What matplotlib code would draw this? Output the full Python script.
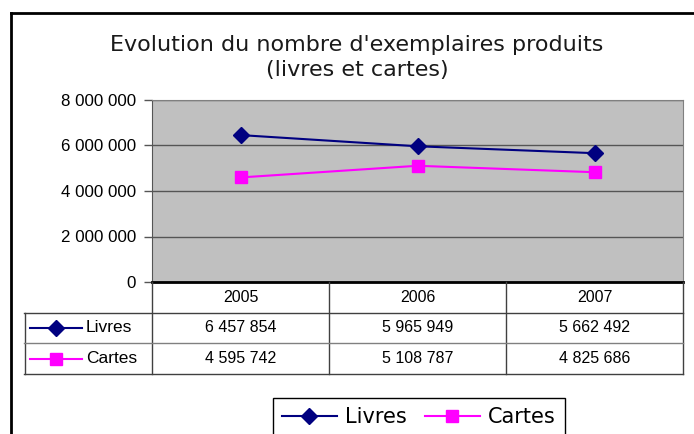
#evolution du nombre d'exemplaires produits
import numpy as np
import matplotlib.pyplot as plt
from matplotlib.lines import Line2D
from matplotlib.ticker import FuncFormatter

#data
years=['2005','2006','2007']
livres=[6457854,5965949,5662492]
cartes=[4595742,5108787,4825686]
series_names=['Livres','Cartes']

W,H=694,434
fig=plt.figure(figsize=(W/100.,H/100.),dpi=100)
fig.patch.set_facecolor('white')

def fmt(v):
	return '{:,}'.format(int(v)).replace(',',' ')

#plot area (pixel box 152..683 x 100..282)
ax=fig.add_axes([152./W,1-282./H,531./W,182./H])
ax.set_facecolor('#c0c0c0')
x=np.arange(len(years))
ln1,=ax.plot(x,livres,color='#000080',lw=1.5,marker='D',ms=8,mfc='#000080',mec='#000080')
ln2,=ax.plot(x,cartes,color='#ff00ff',lw=1.5,marker='s',ms=8,mfc='#ff00ff',mec='#ff00ff')
ax.set_xlim(-0.5,2.5)
ax.set_ylim(0,8000000)
ax.set_yticks(np.arange(0,8000001,2000000))
ax.yaxis.set_major_formatter(FuncFormatter(lambda v,p: fmt(v)))
ax.set_xticks([])
ax.grid(axis='y',color='#555555',lw=1)
ax.set_axisbelow(True)
for lab in ax.get_yticklabels():
	lab.set_fontfamily('Liberation Sans')
	lab.set_fontsize(12.2)
ax.tick_params(axis='y',length=6,width=1,color='#555555',pad=5.5)
ax.spines['left'].set_color('#555555')
ax.spines['top'].set_color('#808080')
ax.spines['right'].set_color('#808080')
ax.spines['bottom'].set_color('black')
ax.spines['bottom'].set_linewidth(2)

#data table below the plot (pixel box 24..683 x 282..374)
tab=fig.add_axes([24./W,1-374./H,659./W,92./H])
def px(p):
	return -0.5+(p-152.)/177.
tab.set_xlim(px(24),2.5)
tab.set_ylim(3,0)
tab.axis('off')
for b in [-0.5,0.5,1.5,2.5]:
	tab.plot([b,b],[0,3],color='#404040',lw=1,clip_on=False)
tab.plot([px(24.5),px(24.5)],[1,3],color='#404040',lw=1,clip_on=False)
for r,c in zip([1,2,3],['#404040','#808080','#404040']):
	tab.plot([px(24),2.5],[r,r],color=c,lw=1,clip_on=False)
for i,yr in enumerate(years):
	tab.text(i,0.5,yr,ha='center',va='center',family='Liberation Sans',fontsize=11.5)
	tab.text(i,1.5,fmt(livres[i]),ha='center',va='center',family='Liberation Sans',fontsize=11.5)
	tab.text(i,2.5,fmt(cartes[i]),ha='center',va='center',family='Liberation Sans',fontsize=11.5)
#legend keys inside the table
keys=[('#000080','D'),('#ff00ff','s')]
for row,(name,(col,mk)) in enumerate(zip(series_names,keys)):
	yy=row+1.5
	tab.plot([px(30),px(82)],[yy,yy],color=col,lw=1.5,clip_on=False)
	tab.plot([px(56)],[yy],marker=mk,color=col,ms=8,clip_on=False)
	tab.text(px(86),yy,name,ha='left',va='center',family='Liberation Sans',fontsize=12.5)

#title
fig.text(357./W,1-45./H,"Evolution du nombre d'exemplaires produits",ha='center',va='center',
	family='DejaVu Sans',fontsize=16,color='#1a1a1a')
fig.text(357./W,1-70./H,"(livres et cartes)",ha='center',va='center',family='DejaVu Sans',
	fontsize=16,color='#1a1a1a')

#outer chart frame (left and top edges visible)
fig.add_artist(Line2D([11./W,11./W],[0,1-13./H],color='black',lw=2,transform=fig.transFigure))
fig.add_artist(Line2D([11./W,1],[1-13./H,1-13./H],color='black',lw=2,transform=fig.transFigure))

#legend
leg=fig.legend([ln1,ln2],series_names,loc='upper left',bbox_to_anchor=(273./W,1-398./H),ncol=2,
	frameon=True,fancybox=False,edgecolor='black',framealpha=1,borderaxespad=0,
	handlelength=2.6,handletextpad=0.4,columnspacing=0.9,borderpad=0.45,
	prop={'family':'DejaVu Sans','size':15})
leg.get_frame().set_linewidth(1)

fig.savefig('out.png',dpi=100)
